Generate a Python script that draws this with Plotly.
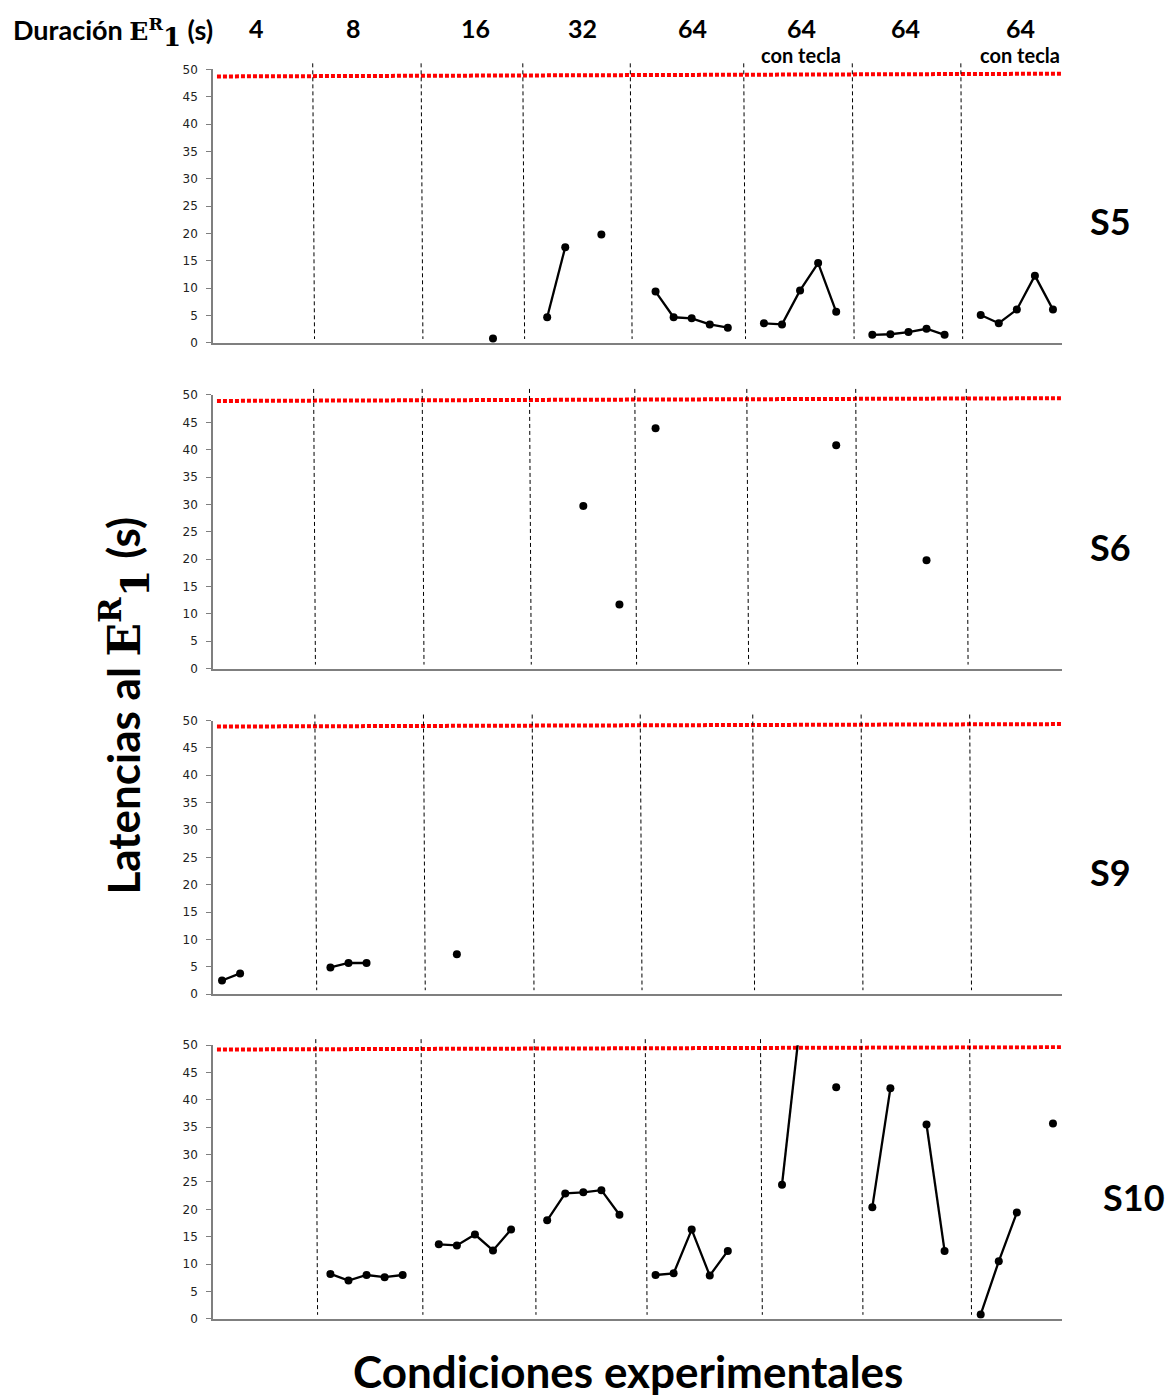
import plotly.graph_objects as go

W, H = 1171, 1399
N = 47  # session slots (5 sessions per condition + 1 empty slot between conditions)
sessions = list(range(N))

conditions = ["4", "8", "16", "32", "64", "64", "64", "64"]
condition_sub = ["", "", "", "", "", "con tecla", "", "con tecla"]
subjects = ["S5", "S6", "S9", "S10"]

_ = None
# latencies per session slot (None = no response / empty slot)
S5 = [_, _, _, _, _, _,
      _, _, _, _, _, _,
      _, _, _, 0.8, _, _,
      4.7, 17.5, _, 19.8, _, _,
      9.4, 4.7, 4.5, 3.4, 2.8, _,
      3.6, 3.4, 9.6, 14.6, 5.7, _,
      1.5, 1.6, 2.0, 2.6, 1.5, _,
      5.1, 3.6, 6.1, 12.3, 6.1]
S6 = [_, _, _, _, _, _,
      _, _, _, _, _, _,
      _, _, _, _, _, _,
      _, _, 29.7, _, 11.7, _,
      43.9, _, _, _, _, _,
      _, _, _, _, 40.8, _,
      _, _, _, 19.8, _, _,
      _, _, _, _, _]
S9 = [2.5, 3.8, _, _, _, _,
      4.9, 5.7, 5.7, _, _, _,
      _, 7.3, _, _, _, _,
      _, _, _, _, _, _,
      _, _, _, _, _, _,
      _, _, _, _, _, _,
      _, _, _, _, _, _,
      _, _, _, _, _]
S10 = [_, _, _, _, _, _,
       8.2, 7.0, 8.0, 7.6, 8.0, _,
       13.6, 13.4, 15.4, 12.5, 16.3, _,
       18.0, 22.9, 23.1, 23.5, 19.0, _,
       8.0, 8.3, 16.3, 7.9, 12.4, _,
       _, 24.5, 54.0, _, 42.3, _,
       20.4, 42.1, _, 35.5, 12.4, _,
       0.8, 10.5, 19.4, _, 35.7]
series = [S5, S6, S9, S10]

# red dotted criterion line (left / right end values per panel)
crit_left = [48.7, 48.9, 48.9, 49.2]
crit_right = [49.2, 49.4, 49.35, 49.65]

# phase-change divider positions (session-slot units) per panel
dividers = [
    [5.07, 11.07, 16.7, 22.65, 28.93, 34.94, 40.95],
    [5.12, 11.13, 17.07, 22.9, 29.1, 35.13, 41.25],
    [5.19, 11.2, 17.22, 23.2, 29.43, 35.43, 41.44],
    [5.24, 11.07, 17.33, 23.48, 29.86, 35.43, 41.44],
]

# layout in (target) pixels
PX_L, PX_R = 213, 1062
tops = [68, 394, 720, 1045]
PH = 274


def py(y):
    # compensate the slight vertical scaling observed in the rendered picture
    return (y - 5.6) / 0.9912


def pap(y):
    return 1 - py(y) / H


fig = go.Figure()
shapes = []
annotations = []

for i, (ys, top) in enumerate(zip(series, tops)):
    n = i + 1
    xa = "x" if n == 1 else f"x{n}"
    ya = "y" if n == 1 else f"y{n}"
    bot = top + PH
    dom_y = [pap(bot), pap(top)]
    dom_x = [PX_L / W, PX_R / W]
    xkey = "xaxis" if n == 1 else f"xaxis{n}"
    ykey = "yaxis" if n == 1 else f"yaxis{n}"
    fig.update_layout(**{
        xkey: dict(domain=dom_x, range=[-0.5, N - 0.5], anchor=ya,
                   showgrid=False, zeroline=False, showticklabels=False,
                   ticks="", showline=True, linecolor="#7f7f7f", linewidth=2),
        ykey: dict(domain=dom_y, range=[0, 50], anchor=xa,
                   tickmode="array", tickvals=list(range(0, 51, 5)),
                   showgrid=False, zeroline=False, showline=True,
                   linecolor="#7f7f7f", linewidth=1.5,
                   ticks="outside", ticklen=5, tickcolor="#7f7f7f", tickwidth=1,
                   ticklabelstandoff=6,
                   tickfont=dict(family="DejaVu Sans", size=12, color="#222")),
    })
    # criterion line
    fig.add_trace(go.Scatter(
        x=[-0.28, N - 0.5], y=[crit_left[i], crit_right[i]], mode="lines",
        line=dict(color="#ff0000", width=4, dash="4px,2px"),
        xaxis=xa, yaxis=ya, showlegend=False, hoverinfo="skip"))
    # data
    fig.add_trace(go.Scatter(
        x=sessions, y=ys, mode="lines+markers", connectgaps=False,
        line=dict(color="black", width=2.3),
        marker=dict(color="black", size=8),
        xaxis=xa, yaxis=ya, showlegend=False))
    # dividers
    for d in dividers[i]:
        shapes.append(dict(type="line", xref=xa, yref="paper",
                           x0=d - 0.05, x1=d + 0.05,
                           y0=pap(top - 6), y1=pap(bot - 4),
                           line=dict(color="black", width=1, dash="4px,3px")))
    # subject label
    annotations.append(dict(
        text=f"<b>{subjects[i]}</b>", xref="paper", yref="paper",
        x=(1110 if subjects[i] != "S10" else 1134) / W, y=pap(top + 152),
        xanchor="center", yanchor="middle", showarrow=False,
        font=dict(family="Lato", size=36, color="black")))

# header condition labels
head_x = [256, 353, 475, 582, 692, 801, 905, 1020]
for cx, c, s in zip(head_x, conditions, condition_sub):
    annotations.append(dict(text=f"<b>{c}</b>", xref="paper", yref="paper",
                            x=cx / W, y=pap(27), xanchor="center", yanchor="middle",
                            showarrow=False, font=dict(family="Lato", size=25, color="black")))
    if s:
        annotations.append(dict(text=f"<b>{s}</b>", xref="paper", yref="paper",
                                x=cx / W, y=pap(54), xanchor="center", yanchor="middle",
                                showarrow=False, font=dict(family="Lato", size=20, color="black")))

serif = "font-family:'DejaVu Serif'"
annotations.append(dict(
    text=(f"<b>Duración <span style=\"{serif};font-size:25px\">E<sup>R</sup></span>"
          f"<sub><span style=\"{serif};font-size:26px\">1</span></sub> (s)</b>"),
    xref="paper", yref="paper", x=11 / W, y=pap(31), xanchor="left", yanchor="middle",
    showarrow=False, font=dict(family="Lato", size=27, color="black")))

annotations.append(dict(
    text=(f"<b>Latencias al <span style=\"{serif}\">E<sup>R</sup></span>"
          f"<sub><span style=\"{serif};font-size:40px\">1</span></sub> (s)</b>"),
    xref="paper", yref="paper", x=125 / W, y=pap(705), xanchor="center", yanchor="middle",
    textangle=-90, showarrow=False, font=dict(family="Lato", size=44, color="black")))

annotations.append(dict(
    text="<b>Condiciones experimentales</b>",
    xref="paper", yref="paper", x=628 / W, y=pap(1371), xanchor="center", yanchor="middle",
    showarrow=False, font=dict(family="Lato", size=44, color="black")))

fig.update_layout(width=W, height=H, margin=dict(l=0, r=0, t=0, b=0),
                  plot_bgcolor="white", paper_bgcolor="white",
                  shapes=shapes, annotations=annotations, showlegend=False)

fig.write_html("out.html")
